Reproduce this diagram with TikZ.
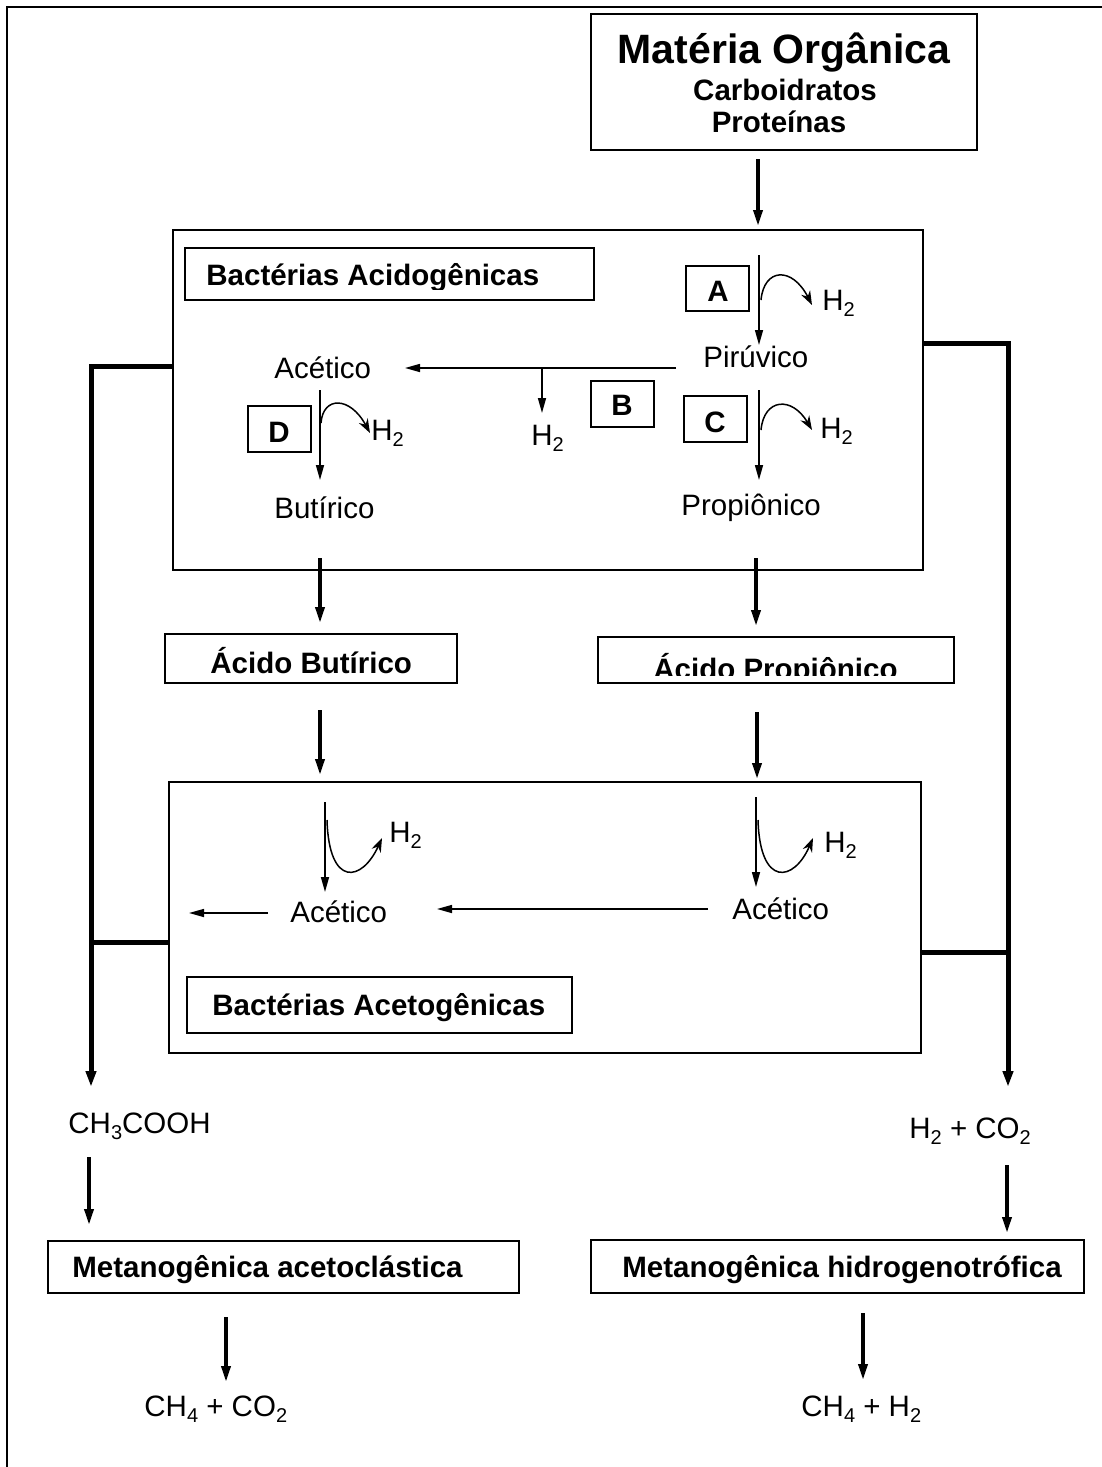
\documentclass[tikz,border=0pt]{standalone}
\usepackage{fontspec}
\setmainfont{Liberation Sans}
\usetikzlibrary{arrows.meta}
\newcommand\subx[1]{\raisebox{-3pt}{\fontsize{10}{12}\selectfont #1}}
\begin{document}
\begin{tikzpicture}[x=0.5pt,y=-0.5pt,
  box/.style={draw, line width=1pt, inner sep=0pt, rectangle},
  txt/.style={anchor=base west, inner sep=0pt, font=\fontsize{14.75}{17}\selectfont},
  btxt/.style={anchor=base west, inner sep=0pt, font=\bfseries\fontsize{14.75}{17}\selectfont},
  ctxt/.style={anchor=base, inner sep=0pt, font=\bfseries\fontsize{14.75}{17}\selectfont},
  bigarr/.style={line width=1.75pt, -{Triangle[width=4.5pt,length=8pt]}},
  thinarr/.style={line width=0.75pt, -{Triangle[width=4pt,length=7.5pt]}},
  curvarr/.style={line width=0.75pt, -{Stealth[width=5pt,length=7pt]}},
  bracket/.style={line width=2.5pt},
  brackarr/.style={line width=2.5pt, -{Triangle[width=5pt,length=8pt]}},
]
\useasboundingbox (0,0) rectangle (1102,1467);
% outer frame
\draw[line width=1pt] (7,1480) -- (7,7) -- (1110,7);

% boxes
\node[box, minimum width=193pt, minimum height=68pt] (mo) at (784,82) {};
\node[box, minimum width=375pt, minimum height=170pt] (acid) at (548,400) {};
\node[box, minimum width=204.5pt, minimum height=26pt] (labacid) at (389.5,274) {};
\node[box, minimum width=31.5pt, minimum height=22.5pt] (boxA) at (717.5,288.5) {};
\node[box, minimum width=31.5pt, minimum height=23pt] (boxB) at (622.5,404) {};
\node[box, minimum width=31.5pt, minimum height=23pt] (boxC) at (715.5,419) {};
\node[box, minimum width=31.5pt, minimum height=23pt] (boxD) at (279.5,429) {};
\node[box, minimum width=146pt, minimum height=24.5pt] (acb) at (311,658.5) {};
\node[box, minimum width=178pt, minimum height=23pt] (acp) at (776,660) {};
\node[box, minimum width=376pt, minimum height=135.5pt] (aceto) at (545,917.5) {};
\node[box, minimum width=192.5pt, minimum height=28pt] (labaceto) at (379.5,1005) {};
\node[box, minimum width=235.5pt, minimum height=26pt] (meta) at (283.5,1267) {};
\node[box, minimum width=246.5pt, minimum height=26.5pt] (meth) at (837.5,1266.5) {};

% texts
\node[anchor=base, inner sep=0pt, font=\bfseries\fontsize{20.5}{24}\selectfont] (t1) at (784,63) {Matéria Orgânica};
\node[ctxt] (t2) at (785,100) {Carboidratos};
\node[ctxt] (t3) at (779,132) {Proteínas};
\begin{scope}
\clip (0,0) rectangle (1102,289);
\node[btxt] (tacid) at (206,285) {Bactérias Acidogênicas};
\end{scope}
\node[ctxt] (tA) at (718,301) {A};
\node[ctxt] (tB) at (622,415) {B};
\node[ctxt] (tC) at (715,432) {C};
\node[ctxt] (tD) at (279,442) {D};
\node[txt] (h2a) at (822,310) {H\subx{2}};
\node[txt] (piru) at (703,367) {Pirúvico};
\node[txt] (acet1) at (274,378) {Acético};
\node[txt] (h2b) at (531,445) {H\subx{2}};
\node[txt] (h2c) at (820,438) {H\subx{2}};
\node[txt] (h2d) at (371,440) {H\subx{2}};
\node[txt] (but) at (274,518) {Butírico};
\node[txt] (prop) at (681,515) {Propiônico};
\node[btxt] (tacb) at (210,673) {Ácido Butírico};
\begin{scope}
\clip (0,0) rectangle (1102,675);
\node[btxt] (tacp) at (653,679) {Ácido Propiônico};
\end{scope}
\node[txt] (h2e) at (389,842) {H\subx{2}};
\node[txt] (acet2) at (290,922) {Acético};
\node[txt] (h2f) at (824,852) {H\subx{2}};
\node[txt] (acet3) at (732,919) {Acético};
\node[btxt] (taceto) at (212,1015) {Bactérias Acetogênicas};
\node[txt] (ch3) at (68,1133) {CH\subx{3}COOH};
\node[txt] (h2co2) at (909,1138) {H\subx{2} + CO\subx{2}};
\node[btxt] (tmeta) at (72,1277) {Metanogênica acetoclástica};
\node[btxt] (tmeth) at (622,1277) {Metanogênica hidrogenotrófica};
\node[txt] (ch4co2) at (144,1416) {CH\subx{4} + CO\subx{2}};
\node[txt] (ch4h2) at (801,1416) {CH\subx{4} + H\subx{2}};

% coordinates
\coordinate (a1s) at (758,159); \coordinate (a1e) at (758,226);
\coordinate (vAs) at (759,255); \coordinate (vAe) at (759,345);
\coordinate (hPs) at (676,368); \coordinate (hPe) at (405,368);
\coordinate (brs) at (542,368); \coordinate (bre) at (542,413);
\coordinate (vCs) at (759,390); \coordinate (vCe) at (759,480);
\coordinate (vDs) at (320,390); \coordinate (vDe) at (320,480);
\coordinate (k1s) at (320,558); \coordinate (k1e) at (320,623);
\coordinate (k2s) at (756,558); \coordinate (k2e) at (756,626);
\coordinate (k3s) at (320,710); \coordinate (k3e) at (320,775);
\coordinate (k4s) at (757,712); \coordinate (k4e) at (757,779);
\coordinate (vLs) at (325,802); \coordinate (vLe) at (325,892);
\coordinate (vRs) at (756,797); \coordinate (vRe) at (756,887);
\coordinate (hMs) at (708,909); \coordinate (hMe) at (437,909);
\coordinate (hLs) at (268,913); \coordinate (hLe) at (189,913);
\coordinate (brL) at (91,366); \coordinate (brLe) at (91,1087);
\coordinate (tkL) at (91,942);
\coordinate (brR) at (1008,343); \coordinate (brRe) at (1008,1087);
\coordinate (tkR) at (1008,952);
\coordinate (m1s) at (89,1157); \coordinate (m1e) at (89,1225);
\coordinate (m2s) at (1007,1165); \coordinate (m2e) at (1007,1233);
\coordinate (m3s) at (226,1317); \coordinate (m3e) at (226,1382);
\coordinate (m4s) at (863,1313); \coordinate (m4e) at (863,1380);

% thick arrows
\draw[bigarr] (a1s) -- (a1e);
\draw[bigarr] (k1s) -- (k1e);
\draw[bigarr] (k2s) -- (k2e);
\draw[bigarr] (k3s) -- (k3e);
\draw[bigarr] (k4s) -- (k4e);
\draw[bigarr] (m1s) -- (m1e);
\draw[bigarr] (m2s) -- (m2e);
\draw[bigarr] (m3s) -- (m3e);
\draw[bigarr] (m4s) -- (m4e);

% thin arrows
\draw[thinarr] (vAs) -- (vAe);
\draw[thinarr] (hPs) -- (hPe);
\draw[thinarr] (brs) -- (bre);
\draw[thinarr] (vCs) -- (vCe);
\draw[thinarr] (vDs) -- (vDe);
\draw[thinarr] (vLs) -- (vLe);
\draw[thinarr] (vRs) -- (vRe);
\draw[thinarr] (hMs) -- (hMe);
\draw[thinarr] (hLs) -- (hLe);

% curved arrows
\draw[curvarr] (761,300) .. controls (764,268) and (792,266) .. (812,305);
\draw[curvarr] (761,430) .. controls (764,398) and (792,396) .. (812,430);
\draw[curvarr] (321,423) .. controls (323,396) and (350,396) .. (370,433);
\draw[curvarr] (327,820) .. controls (329,888) and (362,882) .. (382,838);
\draw[curvarr] (758,820) .. controls (760,888) and (794,882) .. (813,838);

% brackets
\draw[brackarr] (acid.west |- brL) -- (brL) -- (brLe);
\draw[bracket] (tkL) -- (aceto.west |- tkL);
\draw[brackarr] (acid.east |- brR) -- (brR) -- (brRe);
\draw[bracket] (aceto.east |- tkR) -- (tkR);
\end{tikzpicture}
\end{document}
